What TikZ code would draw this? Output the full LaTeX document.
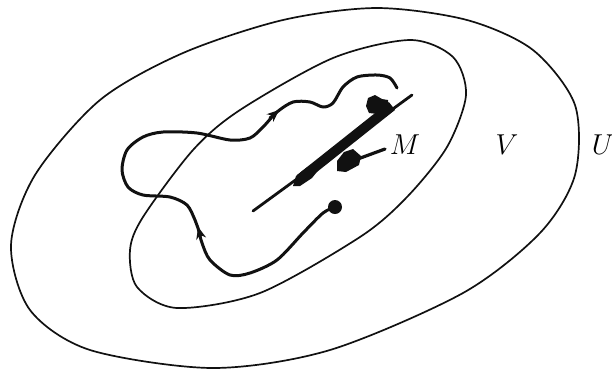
\documentclass[tikz,border=0pt]{standalone}
\usepackage{xcolor}
\usepackage{tikz}
\usetikzlibrary{arrows.meta}
\definecolor{nbInk}{HTML}{111111}

\begin{document}
\begin{tikzpicture}[x=0.5pt,y=-0.5pt,line cap=round,line join=round,
    region/.style={draw=nbInk,line width=0.85pt},
    orbit/.style={draw=nbInk,line width=1.5pt},
    tipmark/.style={draw=nbInk,line width=1.5pt,-{Stealth[length=6pt,width=5pt]}},
    lbl/.style={font=\fontsize{14.5}{17}\selectfont,inner sep=0pt}]
  \useasboundingbox (0,0) rectangle (612,372);
  \draw[region] plot[smooth cycle] coordinates {(11,245) (30,310) (90,350) (213,368)
    (330,350) (463,293) (540,233) (575,175) (575,105) (533,50) (467,20) (377,8)
    (283,20) (183,53) (100,100) (35,175)};
  \draw[region] plot[smooth cycle] coordinates {(240,110) (333,58) (410,40) (453,57)
    (466,95) (447,147) (407,197) (360,237) (260,293) (177,308) (137,287) (130,250)
    (143,217) (193,150)};
  \coordinate (start) at (335,207);
  \draw[orbit] plot[smooth] coordinates {(start) (323,213) (303,233) (277,260)
    (250,273) (230,275) (210,260) (202,243) (198,228) (195,220) (187,205) (170,197)
    (143,195) (128,187) (122,170) (127,150) (143,137) (163,132) (197,133) (230,140)
    (250,138) (263,127) (277,112) (293,102) (310,102) (323,107) (333,103) (343,87)
    (357,77) (377,75) (390,78) (397,88)};
  \draw[tipmark] (200.5,236) -- (198.2,227);
  \draw[tipmark] (270,118) -- (279,110);
  \fill[nbInk] (start) circle (7);
  \draw[nbInk,line width=1.4pt] (253,211) -- (412,95);
  \draw[nbInk,line width=5pt,line cap=butt] (300,179) -- (392,106);
  \fill[nbInk] (293,186) -- (296,176) -- (306,168) -- (314,163) -- (320,168)
    -- (312,178) -- (300,186) -- cycle;
  \fill[nbInk] (366,106) -- (368,98) -- (375,95) -- (382,99) -- (388,100) -- (389,108)
    -- (378,114) -- (369,113) -- cycle;
  \fill[nbInk] (337,161) -- (344,152) -- (353,149) -- (361,156) -- (359,165)
    -- (346,172) -- (337,171) -- cycle;
  \draw[nbInk,line width=1.6pt] (355,160) -- (385,149);
  \node[lbl] (M) at (405,145) {$M$};
  \node[lbl] (V) at (507,145) {$V$};
  \node[lbl] (U) at (603,145) {$U$};
\end{tikzpicture}
\end{document}
